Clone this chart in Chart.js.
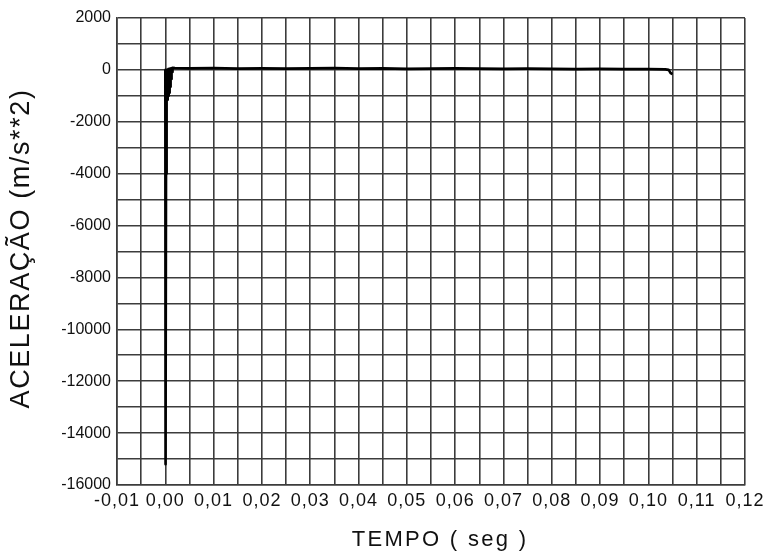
<!DOCTYPE html>
<html>
<head>
<meta charset="utf-8">
<script src="https://cdn.jsdelivr.net/npm/chart.js@4/dist/chart.umd.min.js"></script>
<style>
  html, body { margin: 0; padding: 0; background: #ffffff; }
  #wrap { width: 768px; height: 557px; }
</style>
</head>
<body>
<div id="wrap"><canvas id="chart" width="768" height="557"></canvas></div>
<script>
// Impact acceleration record: time (s) and acceleration (m/s**2)
const tempo = [
  0.0000, 0.00005, 0.00015,
  0.00020, 0.00025, 0.00030, 0.00035, 0.00040, 0.00045, 0.00050, 0.00055,
  0.00060, 0.00065, 0.00070, 0.00075, 0.00080, 0.00085, 0.00090, 0.00095,
  0.00100, 0.00105, 0.00110, 0.00115, 0.00120, 0.00125, 0.00130, 0.00135,
  0.00140, 0.00150, 0.0020,
  0.005, 0.010, 0.015, 0.020, 0.025, 0.030, 0.035, 0.040, 0.045, 0.050,
  0.055, 0.060, 0.065, 0.070, 0.075, 0.080, 0.085, 0.090, 0.095, 0.100,
  0.1035, 0.1042, 0.1046, 0.1050
];
const aceleracao = [
  0, -15200, -4000,
  -1300, -100, -1250, -50, -1150, 0, -1080, 20,
  -1000, 30, -950, 40, -880, 40, -800, 50,
  -650, 50, -500, 60, -350, 60, -200, 70,
  -80, 80, 70,
  60, 70, 50, 60, 50, 60, 70, 50, 60, 40,
  50, 60, 50, 40, 50, 40, 30, 40, 30, 30,
  20, 0, -120, -160
];

// Axis limits and steps (grid every half step, labels every full step)
const xLimits = [-0.01, 0.12];
const xGridStep = 0.005;
const yLimits = [-16000, 2000];
const yGridStep = 1000;

// Per-axis text spacing for tick labels and titles
const labelSpacing = { x: '1px', y: '0px' };
const titleSpacing = { x: '2.3px', y: '1.6px' };
const titleShift = { x: 9, y: -3 };

class SpacedLinearScale extends Chart.LinearScale {
  drawLabels(chartArea) {
    const ctx = this.ctx;
    ctx.save();
    ctx.letterSpacing = labelSpacing[this.axis] || '0px';
    super.drawLabels(chartArea);
    ctx.restore();
  }
  drawTitle() {
    const ctx = this.ctx;
    ctx.save();
    ctx.letterSpacing = titleSpacing[this.axis] || '0px';
    if (this.axis === 'x') ctx.translate(titleShift.x, 0);
    else ctx.translate(0, titleShift.y);
    super.drawTitle();
    ctx.restore();
  }
}
SpacedLinearScale.id = 'spacedLinear';
SpacedLinearScale.defaults = Chart.LinearScale.defaults;
Chart.register(SpacedLinearScale);

const commaLabel = (v, digits) => v.toFixed(digits).replace('.', ',');

const gridColor = '#3c3c3c';
const family = '"Liberation Sans", Arial, Helvetica, sans-serif';

const points = tempo.map((t, i) => ({ x: t, y: aceleracao[i] }));

new Chart(document.getElementById('chart'), {
  type: 'line',
  data: {
    datasets: [{
      data: points,
      borderColor: '#000000',
      borderWidth: 2.6,
      borderJoinStyle: 'round',
      pointRadius: 0,
      tension: 0,
      fill: false
    }]
  },
  options: {
    responsive: false,
    animation: false,
    layout: { padding: { top: 18, right: 23, left: 0, bottom: 0 } },
    plugins: { legend: { display: false }, tooltip: { enabled: false } },
    scales: {
      x: {
        type: 'spacedLinear',
        min: xLimits[0],
        max: xLimits[1],
        afterFit: (s) => { s.height = 72; },
        grid: { color: gridColor, lineWidth: 1.6, drawTicks: false },
        border: { color: gridColor, width: 1.6 },
        ticks: {
          stepSize: xGridStep,
          autoSkip: false,
          maxRotation: 0,
          padding: 5,
          color: '#111111',
          font: { family, size: 18 },
          callback: (v) => {
            const n = Math.round(v * 1000);
            return n % 10 === 0 ? commaLabel(n / 1000, 2) : '';
          }
        },
        title: {
          display: true,
          text: 'TEMPO ( seg )',
          color: '#111111',
          font: { family, size: 22 },
          padding: { top: 0, bottom: 4 }
        }
      },
      y: {
        type: 'spacedLinear',
        min: yLimits[0],
        max: yLimits[1],
        afterFit: (s) => { s.width = 117; },
        grid: { color: gridColor, lineWidth: 1.6, drawTicks: false },
        border: { color: gridColor, width: 1.6 },
        ticks: {
          stepSize: yGridStep,
          autoSkip: false,
          padding: 6,
          color: '#111111',
          font: { family, size: 16 },
          callback: (v) => {
            const n = Math.round(v);
            return n % 2000 === 0 ? String(n) : '';
          }
        },
        title: {
          display: true,
          text: 'ACELERAÇÃO (m/s**2)',
          color: '#111111',
          font: { family, size: 27 },
          padding: { top: 5, bottom: 0 }
        }
      }
    }
  }
});
</script>
</body>
</html>
